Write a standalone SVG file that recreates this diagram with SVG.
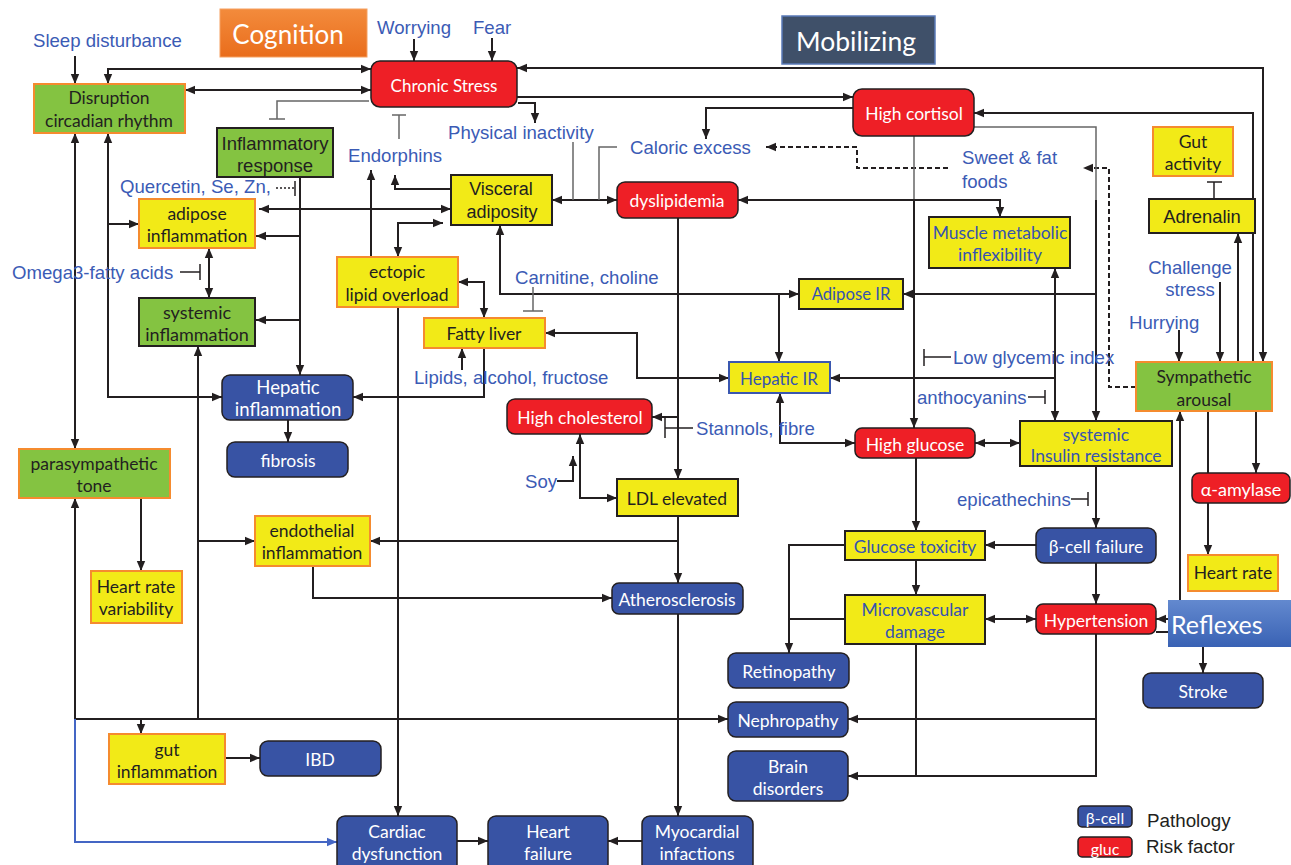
<svg xmlns="http://www.w3.org/2000/svg" width="1291" height="865" viewBox="0 0 1291 865">
<defs>
<marker id="a" viewBox="0 0 10 10" refX="10" refY="5" markerWidth="10" markerHeight="10" markerUnits="userSpaceOnUse" orient="auto-start-reverse"><path d="M0,0.8 L10,5 L0,9.2z" fill="#231f20"/></marker>
<marker id="ab" viewBox="0 0 10 10" refX="10" refY="5" markerWidth="10" markerHeight="10" markerUnits="userSpaceOnUse" orient="auto-start-reverse"><path d="M0,0.8 L10,5 L0,9.2z" fill="#4466c4"/></marker>
<linearGradient id="cog" x1="0" y1="0" x2="0" y2="1"><stop offset="0" stop-color="#f38b3c"/><stop offset="1" stop-color="#e96d1c"/></linearGradient>
<linearGradient id="ref" x1="0" y1="0" x2="0" y2="1"><stop offset="0" stop-color="#6389cf"/><stop offset="1" stop-color="#3962b4"/></linearGradient>
<style>
.c path,.c line{fill:none;stroke:#231f20;stroke-width:2}
.c .gr{stroke:#666;stroke-width:1.5}
.c .ds{stroke-dasharray:5,3}
.c .bl{stroke:#4466c4}
.e{marker-end:url(#a)}
.s{marker-start:url(#a)}
.y{fill:#f2ea17}
.g{fill:#84c341}
.r{fill:#ee1f26}
.b{fill:#3853a4}
.ob{stroke:#f58b2f;stroke-width:2}
.db{stroke:#231f20;stroke-width:2}
.bb{stroke:#3a57b0;stroke-width:2}
.rd{stroke:#231f20;stroke-width:1.5}
text{font-family:Lato,"Open Sans","Liberation Sans",sans-serif;font-size:17.5px;text-anchor:middle;dominant-baseline:central;fill:#231f20}
.w{fill:#fff}
.bt{fill:#3553b0}
.ar{font-family:"Liberation Sans",Arial,sans-serif}
.l{font-family:"Liberation Sans",Arial,sans-serif;font-size:18.6px;fill:#3b5bb5;text-anchor:start}
</style>
</defs>
<rect width="1291" height="865" fill="#fff"/>

<g id="connectors" class="c">
<path class="e" d="M75,56 V84"/>
<path class="s e" d="M108,84 V69 H371"/>
<path class="s e" d="M185,90 H371"/>
<path class="gr" d="M369,101 H277 V119"/><path class="gr" d="M269,119 H285"/>
<path class="gr" d="M399,139 V115"/><path class="gr" d="M392,115 H406"/>
<path class="e" d="M414,39 V61"/>
<path class="e" d="M492,38 V61"/>
<path class="e" d="M518,103 H535 V123"/>
<path class="s e" d="M1263,362 V68 H517"/>
<path class="e" d="M517,97 H853"/>
<path class="e" d="M853,108 H706 V139"/>
<path class="ds e" d="M948,168 H857 V147 H766"/>
<path class="ds e" d="M1136,387 H1109 V168 H1083"/>
<path class="gr" d="M974,127 H1096 V200"/>
<path class="e" d="M1096,200 V421"/>
<path class="e" d="M1096,294 H903"/>
<path class="gr" d="M914,136 V200"/>
<path class="e" d="M914,200 V428"/>
<path class="s e" d="M738,200 H1000 V217"/>
<path class="s e" d="M552,200 H617"/>
<path class="gr" d="M573,142 V200"/>
<path class="gr" d="M617,147 H599 V200"/>
<path class="e" d="M451,189 H395 V175"/>
<path class="e" d="M371,257 V170"/>
<path class="s e" d="M259,209 H451"/>
<path class="s e" d="M398,257 V223 H443"/>
<path class="e" d="M300,177 V375"/>
<path class="e" d="M300,236 H256"/>
<path class="e" d="M300,320 H256"/>
<path d="M276,188 H295" style="stroke-dasharray:2,2;stroke-width:1.5"/><path d="M295,181 V196" style="stroke-width:1.5"/>
<path class="s e" d="M209,248 V298"/>
<path d="M180,272 H200" style="stroke-width:1.5"/><path d="M200,264 V280" style="stroke-width:1.5"/>
<path class="s e" d="M75,133 V449"/>
<path class="s e" d="M108,133 V397 H222"/>
<path class="e" d="M108,224 H139"/>
<path class="s" d="M198,346 V719"/>
<path class="e" d="M198,541 H255"/>
<path class="e" d="M141,498 V571"/>
<path class="s" d="M75,498 V719"/>
<path class="e" d="M75,719 H728"/>
<path class="e" d="M141,719 V734"/>
<path class="bl" d="M75,719 V842 H337" style="marker-end:url(#ab)"/>
<path class="e" d="M398,307 V816"/>
<path class="s e" d="M458,282 H484 V318"/>
<path class="e" d="M484,348 V397 H353"/>
<path class="e" d="M462,370 V348"/>
<path class="s e" d="M500,225 V294 H799"/>
<path class="gr" d="M533,287 V311"/><path class="gr" d="M523,311 H543"/>
<path class="e" d="M779,294 V362"/>
<path class="s e" d="M545,333 H637 V378 H729"/>
<path class="e" d="M678,218 V479"/>
<path class="e" d="M678,417 H652"/>
<path d="M693,428 H665" style="stroke-width:1.5"/><path d="M665,418 V438" style="stroke-width:1.5"/>
<path class="e" d="M557,481 H573 V456"/>
<path class="s e" d="M580,434 V498 H617"/>
<path class="e" d="M678,516 V583"/>
<path class="e" d="M678,541 H370"/>
<path class="e" d="M313,566 V598 H612"/>
<path class="e" d="M678,614 V816"/>
<path class="e" d="M642,841 H608"/>
<path class="e" d="M457,841 H488"/>
<path class="e" d="M225,758 H260"/>
<path class="e" d="M288,420 V442"/>
<path class="s e" d="M780,393 V443 H855"/>
<path class="s e" d="M1055,268 V421"/>
<path class="e" d="M1055,378 H830"/>
<path d="M924,349 V366" style="stroke-width:1.5"/><path d="M924,357 H951" style="stroke-width:1.5"/>
<path d="M1028,397 H1045" style="stroke-width:1.5"/><path d="M1045,390 V404" style="stroke-width:1.5"/>
<path d="M1071,499 H1088" style="stroke-width:1.5"/><path d="M1088,492 V506" style="stroke-width:1.5"/>
<path class="s e" d="M975,443 H1020"/>
<path class="e" d="M1096,466 V528"/>
<path class="e" d="M1036,545 H985"/>
<path class="e" d="M916,458 V531"/>
<path class="e" d="M916,560 V595"/>
<path class="e" d="M845,545 H789 V653"/>
<path d="M845,619 H789"/>
<path class="s e" d="M985,619 H1036"/>
<path class="e" d="M1096,563 V604"/>
<path class="e" d="M1180,600 V411"/>
<path class="e" d="M1170,619 H1156"/>
<path d="M1156,632 H1170"/>
<path class="e" d="M1208,411 V555"/>
<path class="e" d="M1256,411 V473"/>
<path class="e" d="M1203,647 V673"/>
<path class="e" d="M1096,634 V776 H848"/>
<path d="M916,644 V776"/>
<path class="e" d="M1096,719 H848"/>
<path class="e" d="M1220,282 V362"/>
<path class="e" d="M1179,330 V362"/>
<path class="e" d="M1238,411 V233"/>
<path class="e" d="M1253,362 V113 H974"/>
<path d="M1214,199 V182" style="stroke-width:1.5"/><path d="M1207,182 H1222" style="stroke-width:1.5"/>
</g>

<g id="cognition"><rect x="220" y="9" width="147" height="48" fill="url(#cog)" stroke="#f5a060" stroke-width="1"/><text x="288" y="34" class="w" style="font-size:26px">Cognition</text></g>
<g id="mobilizing"><rect x="782" y="16" width="153" height="48" fill="#3f5069" stroke="#5a7ab8" stroke-width="1.5"/><text x="856" y="41" class="w" style="font-size:26.5px">Mobilizing</text></g>

<g id="labels">
<text class="l" x="33" y="40">Sleep disturbance</text>
<text class="l" x="377" y="27">Worrying</text>
<text class="l" x="473" y="27">Fear</text>
<text class="l" x="348" y="155">Endorphins</text>
<text class="l" x="448" y="132">Physical inactivity</text>
<text class="l" x="630" y="147">Caloric excess</text>
<text class="l" x="962" y="157">Sweet &amp; fat</text>
<text class="l" x="962" y="181">foods</text>
<text class="l" x="120" y="186">Quercetin, Se, Zn,</text>
<text class="l" x="12" y="272">Omega3-fatty acids</text>
<text class="l" x="515" y="277">Carnitine, choline</text>
<text class="l" x="1190" y="267" style="text-anchor:middle">Challenge</text>
<text class="l" x="1190" y="289" style="text-anchor:middle">stress</text>
<text class="l" x="1129" y="322">Hurrying</text>
<text class="l" x="953" y="357">Low glycemic index</text>
<text class="l" x="917" y="397">anthocyanins</text>
<text class="l" x="414" y="377">Lipids, alcohol, fructose</text>
<text class="l" x="696" y="428">Stannols, fibre</text>
<text class="l" x="525" y="481">Soy</text>
<text class="l" x="957" y="499">epicathechins</text>
</g>

<g id="chronic-stress"><rect x="371" y="61" width="146" height="46" rx="9" class="r rd"/><text x="444" y="85" class="w" style="font-size:17px">Chronic Stress</text></g>
<g id="disruption"><rect x="34" y="84" width="151" height="49" class="g ob"/><text x="109" y="97">Disruption</text><text x="109" y="120">circadian rhythm</text></g>
<g id="inflammatory-response"><rect x="217" y="128" width="116" height="49" class="g db"/><text x="275" y="143" class="ar" style="font-size:18.5px">Inflammatory</text><text x="275" y="165" class="ar" style="font-size:18.5px">response</text></g>
<g id="high-cortisol"><rect x="853" y="89" width="121" height="47" rx="9" class="r rd"/><text x="914" y="113" class="w">High cortisol</text></g>
<g id="gut-activity"><rect x="1153" y="127" width="80" height="49" class="y ob"/><text x="1193" y="141">Gut</text><text x="1193" y="163">activity</text></g>
<g id="adrenalin"><rect x="1149" y="199" width="106" height="34" class="y db"/><text x="1202" y="216" class="ar" style="font-size:18.4px">Adrenalin</text></g>
<g id="adipose-inflammation"><rect x="139" y="199" width="116" height="49" class="y ob"/><text x="197" y="213">adipose</text><text x="197" y="235">inflammation</text></g>
<g id="visceral-adiposity"><rect x="451" y="175" width="101" height="50" class="y db"/><text x="501" y="189" class="ar" style="font-size:18px">Visceral</text><text x="502" y="212" class="ar" style="font-size:18px">adiposity</text></g>
<g id="dyslipidemia"><rect x="617" y="182" width="121" height="36" rx="8" class="r rd"/><text x="677" y="200" class="w">dyslipidemia</text></g>
<g id="muscle-metabolic"><rect x="929" y="217" width="141" height="51" class="y db"/><text x="1000" y="232" class="bt">Muscle metabolic</text><text x="1000" y="254" class="bt">inflexibility</text></g>
<g id="ectopic-lipid"><rect x="337" y="257" width="121" height="50" class="y ob"/><text x="397" y="271">ectopic</text><text x="397" y="294">lipid overload</text></g>
<g id="adipose-ir"><rect x="799" y="279" width="104" height="30" class="y db"/><text x="851" y="294" class="bt" style="font-size:16.7px">Adipose IR</text></g>
<g id="systemic-inflammation"><rect x="139" y="298" width="116" height="48" class="g db"/><text x="197" y="312" style="font-size:18px">systemic</text><text x="197" y="334" style="font-size:18px">inflammation</text></g>
<g id="fatty-liver"><rect x="424" y="318" width="121" height="30" class="y ob"/><text x="484" y="333">Fatty liver</text></g>
<g id="hepatic-ir"><rect x="729" y="362" width="101" height="31" class="y bb"/><text x="779" y="378" class="bt" style="font-size:17px">Hepatic IR</text></g>
<g id="sympathetic-arousal"><rect x="1136" y="362" width="136" height="49" class="g ob"/><text x="1204" y="376">Sympathetic</text><text x="1204" y="399">arousal</text></g>
<g id="hepatic-inflammation"><rect x="222" y="375" width="131" height="45" rx="8" class="b rd"/><text x="288" y="387" class="w" style="font-size:18.5px">Hepatic</text><text x="288" y="409" class="w" style="font-size:18.5px">inflammation</text></g>
<g id="high-cholesterol"><rect x="507" y="399" width="145" height="35" rx="8" class="r rd"/><text x="580" y="417" class="w">High cholesterol</text></g>
<g id="high-glucose"><rect x="855" y="428" width="120" height="30" rx="7" class="r rd"/><text x="915" y="444" class="w">High glucose</text></g>
<g id="insulin-resistance"><rect x="1020" y="421" width="152" height="45" class="y db"/><text x="1096" y="434" class="bt">systemic</text><text x="1096" y="455" class="bt">Insulin resistance</text></g>
<g id="fibrosis"><rect x="227" y="442" width="121" height="35" rx="8" class="b rd"/><text x="288" y="460" class="w">fibrosis</text></g>
<g id="parasympathetic"><rect x="19" y="449" width="151" height="49" class="g ob"/><text x="94" y="463">parasympathetic</text><text x="94" y="485">tone</text></g>
<g id="ldl"><rect x="617" y="479" width="121" height="37" class="y db"/><text x="677" y="498">LDL elevated</text></g>
<g id="amylase"><rect x="1192" y="473" width="98" height="30" rx="7" class="r rd"/><text x="1241" y="489" class="w" style="font-size:18px">α-amylase</text></g>
<g id="endothelial"><rect x="255" y="516" width="115" height="50" class="y ob"/><text x="312" y="530">endothelial</text><text x="312" y="552">inflammation</text></g>
<g id="glucose-toxicity"><rect x="845" y="531" width="140" height="29" class="y db"/><text x="915" y="546" class="bt">Glucose toxicity</text></g>
<g id="beta-cell-failure"><rect x="1036" y="528" width="120" height="35" rx="8" class="b rd"/><text x="1096" y="546" class="w">β-cell failure</text></g>
<g id="hrv"><rect x="91" y="571" width="91" height="52" class="y ob"/><text x="136" y="586">Heart rate</text><text x="136" y="608">variability</text></g>
<g id="heart-rate"><rect x="1188" y="555" width="90" height="36" class="y ob"/><text x="1233" y="572">Heart rate</text></g>
<g id="atherosclerosis"><rect x="612" y="583" width="131" height="31" rx="7" class="b rd"/><text x="677" y="599" class="w">Atherosclerosis</text></g>
<g id="microvascular"><rect x="845" y="595" width="140" height="49" class="y db"/><text x="915" y="609" class="bt">Microvascular</text><text x="915" y="631" class="bt">damage</text></g>
<g id="hypertension"><rect x="1036" y="604" width="120" height="30" rx="7" class="r rd"/><text x="1096" y="620" class="w">Hypertension</text></g>
<g id="reflexes"><rect x="1168" y="600" width="123" height="47" fill="url(#ref)"/><text x="1171" y="624" class="w" style="font-size:25px;text-anchor:start">Reflexes</text></g>
<g id="retinopathy"><rect x="728" y="653" width="121" height="35" rx="8" class="b rd"/><text x="789" y="671" class="w">Retinopathy</text></g>
<g id="stroke"><rect x="1143" y="673" width="120" height="35" rx="8" class="b rd"/><text x="1203" y="691" class="w">Stroke</text></g>
<g id="nephropathy"><rect x="728" y="702" width="120" height="35" rx="8" class="b rd"/><text x="788" y="720" class="w">Nephropathy</text></g>
<g id="gut-inflammation"><rect x="109" y="734" width="116" height="50" class="y ob"/><text x="167" y="749">gut</text><text x="167" y="771">inflammation</text></g>
<g id="ibd"><rect x="260" y="741" width="121" height="35" rx="8" class="b rd"/><text x="320" y="759" class="w">IBD</text></g>
<g id="brain-disorders"><rect x="728" y="751" width="120" height="50" rx="8" class="b rd"/><text x="788" y="766" class="w">Brain</text><text x="788" y="788" class="w">disorders</text></g>
<g id="cardiac-dysfunction"><rect x="337" y="816" width="120" height="56" rx="8" class="b rd"/><text x="397" y="831" class="w">Cardiac</text><text x="397" y="853" class="w">dysfunction</text></g>
<g id="heart-failure"><rect x="488" y="816" width="120" height="56" rx="8" class="b rd"/><text x="548" y="831" class="w">Heart</text><text x="548" y="853" class="w">failure</text></g>
<g id="myocardial"><rect x="642" y="816" width="111" height="56" rx="8" class="b rd"/><text x="697" y="831" class="w">Myocardial</text><text x="697" y="853" class="w">infactions</text></g>

<g id="legend">
<rect x="1078" y="806" width="54" height="21" rx="4" class="b rd"/><text x="1105" y="817" class="w" style="font-size:16px">β-cell</text>
<text x="1147" y="820" class="ar" style="font-size:18.8px;text-anchor:start">Pathology</text>
<rect x="1078" y="837" width="54" height="20" rx="4" class="r rd"/><text x="1105" y="848" class="w" style="font-size:16px">gluc</text>
<text x="1146" y="846" class="ar" style="font-size:18.8px;text-anchor:start">Risk factor</text>
</g>
</svg>
